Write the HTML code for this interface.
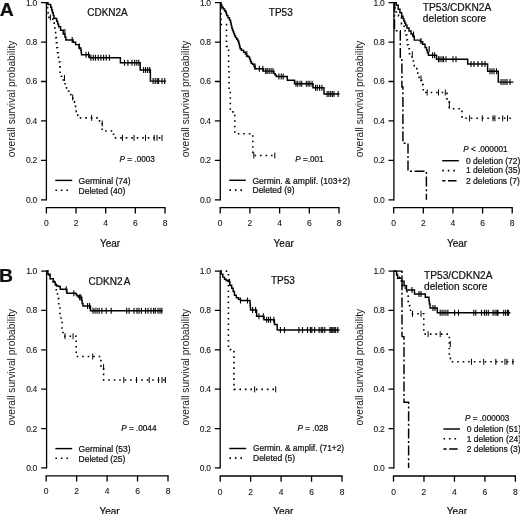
<!DOCTYPE html>
<html><head><meta charset="utf-8"><title>Survival curves</title>
<style>html,body{margin:0;padding:0;background:#fff;}svg{display:block;will-change:transform;}text{font-family:"Liberation Sans", sans-serif;fill:#111;stroke:#111;stroke-width:0.22px;}</style>
</head><body>
<svg width="520" height="514" viewBox="0 0 520 514">
<rect width="520" height="514" fill="#fff"/>
<text transform="translate(-0.2,15.8) scale(1.09,1)" font-size="17.8" font-weight="bold" fill="#000">A</text>
<text transform="translate(-0.9,281.6) scale(1.09,1)" font-size="17.8" font-weight="bold" fill="#000">B</text>
<path d="M46.4,2V200.4" stroke="#000" stroke-width="1.3" fill="none"/>
<path d="M41,199.8H46.4M41,160.36H46.4M41,120.92H46.4M41,81.48H46.4M41,42.04H46.4M41,2.6H46.4" stroke="#000" stroke-width="1.3" fill="none"/>
<text x="36.8" y="202.8" font-size="8.5" text-anchor="end" letter-spacing="-0.35" style="stroke-width:0.08px">0.0</text>
<text x="36.8" y="163.36" font-size="8.5" text-anchor="end" letter-spacing="-0.35" style="stroke-width:0.08px">0.2</text>
<text x="36.8" y="123.92" font-size="8.5" text-anchor="end" letter-spacing="-0.35" style="stroke-width:0.08px">0.4</text>
<text x="36.8" y="84.48" font-size="8.5" text-anchor="end" letter-spacing="-0.35" style="stroke-width:0.08px">0.6</text>
<text x="36.8" y="45.04" font-size="8.5" text-anchor="end" letter-spacing="-0.35" style="stroke-width:0.08px">0.8</text>
<text x="36.8" y="5.6" font-size="8.5" text-anchor="end" letter-spacing="-0.35" style="stroke-width:0.08px">1.0</text>
<path d="M45.8,207.7H165.6" stroke="#000" stroke-width="1.3" fill="none"/>
<path d="M46.4,207.7V213.5M76.05,207.7V213.5M105.7,207.7V213.5M135.35,207.7V213.5M165,207.7V213.5" stroke="#000" stroke-width="1.3" fill="none"/>
<text x="46.4" y="226.3" font-size="8.5" text-anchor="middle" style="stroke-width:0.08px">0</text>
<text x="76.05" y="226.3" font-size="8.5" text-anchor="middle" style="stroke-width:0.08px">2</text>
<text x="105.7" y="226.3" font-size="8.5" text-anchor="middle" style="stroke-width:0.08px">4</text>
<text x="135.35" y="226.3" font-size="8.5" text-anchor="middle" style="stroke-width:0.08px">6</text>
<text x="165" y="226.3" font-size="8.5" text-anchor="middle" style="stroke-width:0.08px">8</text>
<text x="110" y="246.6" font-size="10" text-anchor="middle">Year</text>
<text transform="translate(15,98.9) rotate(-90)" font-size="10.2" text-anchor="middle" style="stroke:none;fill:#1a1a1a">overall survival probability</text>
<text x="87.2" y="16.2" font-size="10">CDKN2A</text>
<path d="M46.4,2.7H48V4.4H50.3H50.72V7.18H51.58V9.95H52.42V12.72H53.28V15.5H53.7H54V18.3H54.3H55.25V18.5H56.2H56.68V21.27H57.65V24.03H58.62V26.8H59.1H60.55V30.2H62H63.2V34H64.4H64.9V36.95H65.9V39.9H66.4H72.4H73.15V42.2H73.9H75.6V44.6H77.3H79V48H80.7H80.87V50.27H81.2V52.53H81.53V54.8H81.7H89.5V57.7H120.4V62.7H140.2V69.9H150.4V81.1H166" fill="none" stroke="#000" stroke-width="1.45"/>
<path d="M64.9,29V35M72.2,36.9V42.9M79.5,43.5V49.5M86,51.8V57.8M88.6,51.8V57.8M90.9,54.7V60.7M93.3,54.7V60.7M95.5,54.7V60.7M98.2,54.7V60.7M100.9,54.7V60.7M103.6,54.7V60.7M106.2,54.7V60.7M109.4,54.7V60.7M124.5,59.7V65.7M127.9,59.7V65.7M132,59.7V65.7M134.7,59.7V65.7M136.8,59.7V65.7M138.8,59.7V65.7M143.6,66.9V72.9M145.6,66.9V72.9M147.7,66.9V72.9M149.7,66.9V72.9M153.1,78.1V84.1M155.2,78.1V84.1M157.2,78.1V84.1M158.6,78.1V84.1M162,78.1V84.1M164.7,78.1V84.1" stroke="#000" stroke-width="1.1" fill="none"/>
<path d="M46.4,2.7H47.3V7.6H47.6V12.5H48V17.4H52.8V22.3H53.3V22.9H53.8H54.15V27.75H54.85V32.6H55.2H55.58V37.65H56.33V42.7H56.7H57V47.7H57.6V52.7H57.9H58.4V57.35H59.4V62H59.9H59.98V67.15H60.12V72.3H60.2H61.35V76.3H62.5H63.35V80.05H65.05V83.8H65.9H66.55V87.9H67.2H68.45V91H69.7H70.85V94.7H72H72.85V98.45H74.55V102.2H75.4H75.55V107.4H75.7H76.25V111.8H76.8H77.8V117.9H78.8H99.5V122.6H102.2V131H113.6V137.9H163" fill="none" stroke="#000" stroke-width="1.6" stroke-dasharray="1.6 3.9"/>
<path d="M50.4,14.4V20.4M64.5,75V81M72.7,94.5V100.5M91.7,114.9V120.9M102.2,120.5V126.5M122.4,134.9V140.9M134,134.9V140.9M145.5,134.9V140.9M154.2,134.9V140.9M157,134.9V140.9M162,134.9V140.9" stroke="#000" stroke-width="1.0" fill="none"/>
<text x="119.6" y="162.4" font-size="8.2"><tspan font-style="italic">P</tspan> = .0003</text>
<path d="M55.3,180.4H72.2" fill="none" stroke="#000" stroke-width="1.45"/>
<path d="M55.4,190.2H69" fill="none" stroke="#000" stroke-width="1.6" stroke-dasharray="1.6 3.9"/>
<text x="78.6" y="183.9" font-size="8.5">Germinal (74)</text>
<text x="78.6" y="193.6" font-size="8.5">Deleted (40)</text>
<path d="M220.3,2V200.4" stroke="#000" stroke-width="1.3" fill="none"/>
<path d="M214.9,199.8H220.3M214.9,160.36H220.3M214.9,120.92H220.3M214.9,81.48H220.3M214.9,42.04H220.3M214.9,2.6H220.3" stroke="#000" stroke-width="1.3" fill="none"/>
<text x="210.7" y="202.8" font-size="8.5" text-anchor="end" letter-spacing="-0.35" style="stroke-width:0.08px">0.0</text>
<text x="210.7" y="163.36" font-size="8.5" text-anchor="end" letter-spacing="-0.35" style="stroke-width:0.08px">0.2</text>
<text x="210.7" y="123.92" font-size="8.5" text-anchor="end" letter-spacing="-0.35" style="stroke-width:0.08px">0.4</text>
<text x="210.7" y="84.48" font-size="8.5" text-anchor="end" letter-spacing="-0.35" style="stroke-width:0.08px">0.6</text>
<text x="210.7" y="45.04" font-size="8.5" text-anchor="end" letter-spacing="-0.35" style="stroke-width:0.08px">0.8</text>
<text x="210.7" y="5.6" font-size="8.5" text-anchor="end" letter-spacing="-0.35" style="stroke-width:0.08px">1.0</text>
<path d="M219.6,207.7H339.6" stroke="#000" stroke-width="1.3" fill="none"/>
<path d="M220.2,207.7V213.5M249.9,207.7V213.5M279.6,207.7V213.5M309.3,207.7V213.5M339,207.7V213.5" stroke="#000" stroke-width="1.3" fill="none"/>
<text x="220.2" y="226.3" font-size="8.5" text-anchor="middle" style="stroke-width:0.08px">0</text>
<text x="249.9" y="226.3" font-size="8.5" text-anchor="middle" style="stroke-width:0.08px">2</text>
<text x="279.6" y="226.3" font-size="8.5" text-anchor="middle" style="stroke-width:0.08px">4</text>
<text x="309.3" y="226.3" font-size="8.5" text-anchor="middle" style="stroke-width:0.08px">6</text>
<text x="339" y="226.3" font-size="8.5" text-anchor="middle" style="stroke-width:0.08px">8</text>
<text x="283.7" y="246.6" font-size="10" text-anchor="middle">Year</text>
<text transform="translate(188.9,98.9) rotate(-90)" font-size="10.2" text-anchor="middle" style="stroke:none;fill:#1a1a1a">overall survival probability</text>
<text x="268.8" y="16.2" font-size="10">TP53</text>
<path d="M220.3,2.7H220.83V5H221.88V7.3H222.4H223.12V9H224.58V10.7H225.3H225.62V12.33H226.25V13.97H226.88V15.6H227.2H227.95V17.75H229.45V19.9H230.2H230.44V21.97H230.91V24.05H231.39V26.12H231.86V28.2H232.1H232.46V30.15H233.19V32.1H233.91V34.05H234.64V36H235H235.57V37.63H236.7V39.27H237.83V40.9H238.4H238.65V42.88H239.15V44.85H239.65V46.82H240.15V48.8H240.4H241.4V50.2H242.4H243.6V52.2H244.8H245.4V54.1H246.6V56H247.2H248.2V57H249.2H249.6V59.1H250.4V61.2H251.2V63.3H251.6H252.6V64.3H253.6H254.07V66.5H255.03V68.7H255.5H263.5V71.1H273.5H274V73.6H274.5H275.1V75.05H276.3V76.5H276.9H287.3V80.2H294.5V83.7H313V87.7H324V94H339.5" fill="none" stroke="#000" stroke-width="1.45"/>
<path d="M246.8,51V57M255,63.5V69.5M259.4,65.7V71.7M262.8,65.7V71.7M265.7,68.1V74.1M267.2,68.1V74.1M269.1,68.1V74.1M271.1,68.1V74.1M273,68.1V74.1M278.9,73.5V79.5M281.3,73.5V79.5M283.2,73.5V79.5M296,80.7V86.7M297.7,80.7V86.7M300,80.7V86.7M301.7,80.7V86.7M306.3,80.7V86.7M308.1,80.7V86.7M309.8,80.7V86.7M312.1,80.7V86.7M315.6,84.7V90.7M317.3,84.7V90.7M319.6,84.7V90.7M321.9,84.7V90.7M327.1,91V97M328.8,91V97M330.6,91V97M332.3,91V97M334,91V97M338.1,91V97" stroke="#000" stroke-width="1.1" fill="none"/>
<path d="M220.3,2.7H220.9V24.5H226.5V46.4H228.6V68.2H229V90H230.3V111.9H234.8V133.7H252.8H252.81V139.15H252.84V144.6H252.86V150.05H252.89V155.5H252.9H274.8" fill="none" stroke="#000" stroke-width="1.6" stroke-dasharray="1.6 3.9"/>
<path d="M253.8,152.5V158.5M274.8,152.5V158.5" stroke="#000" stroke-width="1.0" fill="none"/>
<text x="295.2" y="162.3" font-size="8.2"><tspan font-style="italic">P</tspan> =.001</text>
<path d="M229.2,180.3H245.8" fill="none" stroke="#000" stroke-width="1.45"/>
<path d="M229.4,190.1H243" fill="none" stroke="#000" stroke-width="1.6" stroke-dasharray="1.6 3.9"/>
<text x="252.5" y="183.8" font-size="8.5">Germin. &amp; amplif. (103+2)</text>
<text x="252.5" y="193.1" font-size="8.5">Deleted (9)</text>
<path d="M393.9,2V200.4" stroke="#000" stroke-width="1.3" fill="none"/>
<path d="M388.5,199.8H393.9M388.5,160.36H393.9M388.5,120.92H393.9M388.5,81.48H393.9M388.5,42.04H393.9M388.5,2.6H393.9" stroke="#000" stroke-width="1.3" fill="none"/>
<text x="384.3" y="202.8" font-size="8.5" text-anchor="end" letter-spacing="-0.35" style="stroke-width:0.08px">0.0</text>
<text x="384.3" y="163.36" font-size="8.5" text-anchor="end" letter-spacing="-0.35" style="stroke-width:0.08px">0.2</text>
<text x="384.3" y="123.92" font-size="8.5" text-anchor="end" letter-spacing="-0.35" style="stroke-width:0.08px">0.4</text>
<text x="384.3" y="84.48" font-size="8.5" text-anchor="end" letter-spacing="-0.35" style="stroke-width:0.08px">0.6</text>
<text x="384.3" y="45.04" font-size="8.5" text-anchor="end" letter-spacing="-0.35" style="stroke-width:0.08px">0.8</text>
<text x="384.3" y="5.6" font-size="8.5" text-anchor="end" letter-spacing="-0.35" style="stroke-width:0.08px">1.0</text>
<path d="M393.1,207.7H512.8" stroke="#000" stroke-width="1.3" fill="none"/>
<path d="M393.7,207.7V213.5M423.32,207.7V213.5M452.95,207.7V213.5M482.58,207.7V213.5M512.2,207.7V213.5" stroke="#000" stroke-width="1.3" fill="none"/>
<text x="393.7" y="226.3" font-size="8.5" text-anchor="middle" style="stroke-width:0.08px">0</text>
<text x="423.32" y="226.3" font-size="8.5" text-anchor="middle" style="stroke-width:0.08px">2</text>
<text x="452.95" y="226.3" font-size="8.5" text-anchor="middle" style="stroke-width:0.08px">4</text>
<text x="482.58" y="226.3" font-size="8.5" text-anchor="middle" style="stroke-width:0.08px">6</text>
<text x="512.2" y="226.3" font-size="8.5" text-anchor="middle" style="stroke-width:0.08px">8</text>
<text x="457.05" y="246.6" font-size="10" text-anchor="middle">Year</text>
<text transform="translate(362.5,98.9) rotate(-90)" font-size="10.2" text-anchor="middle" style="stroke:none;fill:#1a1a1a">overall survival probability</text>
<text x="422.8" y="10.6" font-size="10.2">TP53/CDKN2A</text>
<text x="422.8" y="22" font-size="10.2">deletion score</text>
<path d="M393.9,2.7H395.2H396.25V5.3H397.3H398.2V9.3H399.1H399.95V12.8H400.8H401.7V16.3H402.6H403.03V18.65H403.88V21H404.3H404.75V23.05H405.65V25.1H406.1H406.95V28H407.8H409V30.9H410.2H411.05V33.9H411.9H412.8V36.2H413.7H414.25V40.1H414.8H419.5H420.35V41.8H421.2H422.65V44.3H424.1H425.05V47.4H426H426.48V50.03H427.45V52.67H428.42V55.3H428.9H436.5V59.2H467.7V64H487.6V71.2H498.3V82.1H513.4" fill="none" stroke="#000" stroke-width="1.45"/>
<path d="M413.6,31.5V37.5M421,37.9V43.9M429.2,46V52M432.6,52.3V58.3M434.6,52.3V58.3M438.5,56.2V62.2M440,56.2V62.2M442,56.2V62.2M443.5,56.2V62.2M446,56.2V62.2M453,56.2V62.2M456,56.2V62.2M471,61V67M474,61V67M478,61V67M482,61V67M485,61V67M490,68.2V74.2M492,68.2V74.2M494,68.2V74.2M496.5,68.2V74.2M501,79.1V85.1M503,79.1V85.1M505,79.1V85.1M507,79.1V85.1M510,79.1V85.1" stroke="#000" stroke-width="1.1" fill="none"/>
<path d="M393.9,2.7H395V8H396V12H397H398.5V16H400H401.5V24H403H404.15V30.8H405.3H406V35H406.7H406.93V39.85H407.38V44.7H407.6H408.2V48.8H408.8H409.35V53.8H409.9H411.95V61H414H414.3V65.7H414.6H415.75V68.6H416.9H417.8V73.3H418.7H419.15V77.4H419.6H421.2V80.3H422.8H422.95V84.9H423.1H423.2V92.5H423.3H447V100.5H449.3V108.8H462V118.3H511" fill="none" stroke="#000" stroke-width="1.6" stroke-dasharray="1.6 3.9"/>
<path d="M412.3,51.3V57.3M421,75.5V81.5M427.2,89.5V95.5M438.5,89.5V95.5M445.3,89.5V95.5M449.3,101V107M469.6,115.3V121.3M482.3,115.3V121.3M493,115.3V121.3M494.9,115.3V121.3M502.7,115.3V121.3M507.5,115.3V121.3" stroke="#000" stroke-width="1.0" fill="none"/>
<path d="M393.9,2.7H394.5V30.8H400.3V58.9H401.9V87H402.9V143.2H408V171.2H426.4V199.8" fill="none" stroke="#000" stroke-width="1.45" stroke-dasharray="10 2.6 2 2.6"/>
<text x="463.2" y="152" font-size="8.2"><tspan font-style="italic">P</tspan> &lt; .000001</text>
<path d="M442.2,160.7H458.8" fill="none" stroke="#000" stroke-width="1.45"/>
<path d="M442.3,170.6H456" fill="none" stroke="#000" stroke-width="1.6" stroke-dasharray="1.6 3.9"/>
<path d="M442.2,180.8H459" fill="none" stroke="#000" stroke-width="1.45" stroke-dasharray="3.3 2.5 8.5 3"/>
<text x="466" y="163.6" font-size="8.5">0 deletion (72)</text>
<text x="466" y="173.3" font-size="8.5">1 deletion (35)</text>
<text x="466" y="183.7" font-size="8.5">2 deletions (7)</text>
<path d="M46.6,270.5V468.5" stroke="#000" stroke-width="1.3" fill="none"/>
<path d="M41.2,467.9H46.6M41.2,428.54H46.6M41.2,389.18H46.6M41.2,349.82H46.6M41.2,310.46H46.6M41.2,271.1H46.6" stroke="#000" stroke-width="1.3" fill="none"/>
<text x="37" y="470.9" font-size="8.5" text-anchor="end" letter-spacing="-0.35" style="stroke-width:0.08px">0.0</text>
<text x="37" y="431.54" font-size="8.5" text-anchor="end" letter-spacing="-0.35" style="stroke-width:0.08px">0.2</text>
<text x="37" y="392.18" font-size="8.5" text-anchor="end" letter-spacing="-0.35" style="stroke-width:0.08px">0.4</text>
<text x="37" y="352.82" font-size="8.5" text-anchor="end" letter-spacing="-0.35" style="stroke-width:0.08px">0.6</text>
<text x="37" y="313.46" font-size="8.5" text-anchor="end" letter-spacing="-0.35" style="stroke-width:0.08px">0.8</text>
<text x="37" y="274.1" font-size="8.5" text-anchor="end" letter-spacing="-0.35" style="stroke-width:0.08px">1.0</text>
<path d="M45.6,475.8H168.6" stroke="#000" stroke-width="1.3" fill="none"/>
<path d="M46.2,475.8V481.6M76.65,475.8V481.6M107.1,475.8V481.6M137.55,475.8V481.6M168,475.8V481.6" stroke="#000" stroke-width="1.3" fill="none"/>
<text x="46.2" y="494.4" font-size="8.5" text-anchor="middle" style="stroke-width:0.08px">0</text>
<text x="76.65" y="494.4" font-size="8.5" text-anchor="middle" style="stroke-width:0.08px">2</text>
<text x="107.1" y="494.4" font-size="8.5" text-anchor="middle" style="stroke-width:0.08px">4</text>
<text x="137.55" y="494.4" font-size="8.5" text-anchor="middle" style="stroke-width:0.08px">6</text>
<text x="168" y="494.4" font-size="8.5" text-anchor="middle" style="stroke-width:0.08px">8</text>
<text x="109.5" y="514.7" font-size="10" text-anchor="middle">Year</text>
<text transform="translate(15.2,367.2) rotate(-90)" font-size="10.2" text-anchor="middle" style="stroke:none;fill:#1a1a1a">overall survival probability</text>
<text x="88.6" y="284.6" font-size="10">CDKN2<tspan dx="1.2">A</tspan></text>
<path d="M46.6,271.1H47.9V274.3H50H50.15V278.6H50.3H52.8H53.25V281.1H53.7H54.2V282H54.7H55.2V285H55.7H56.65V286H57.6H58.8V286.4H60H60.25V289.3H60.5H66.9V293.2H75.8H76.05V294.5H76.3H76.95V295.7H77.6H78.3V297.3H79H81.5H81.72V300.4H82.18V303.5H82.4H82.9V305.9H83.4H90.2H90.45V310.7H90.7H162.6" fill="none" stroke="#000" stroke-width="1.45"/>
<path d="M66.2,286.3V292.3M73.8,290.2V296.2M79.6,294.3V300.3M80.9,294.3V300.3M87.6,302.9V308.9M89.6,302.9V308.9M93,307.7V313.7M95,307.7V313.7M97.1,307.7V313.7M99.2,307.7V313.7M101.9,307.7V313.7M106.2,307.7V313.7M111.2,307.7V313.7M126.7,307.7V313.7M129.1,307.7V313.7M134,307.7V313.7M137,307.7V313.7M139,307.7V313.7M141.4,307.7V313.7M145.5,307.7V313.7M148,307.7V313.7M151,307.7V313.7M153.6,307.7V313.7M155.3,307.7V313.7M158,307.7V313.7M160,307.7V313.7M161.8,307.7V313.7" stroke="#000" stroke-width="1.1" fill="none"/>
<path d="M46.6,271.1H48V275H50.5V279H53V282.9H55.5H56.25V290.8H57H57.5V298.6H58H58.75V306.5H59.5H60V314.3H60.5H61V322.2H61.5H62V330H62.5H63V336.2H63.5H76.2V356.5H100.9V367.5H103.6V380H165.4" fill="none" stroke="#000" stroke-width="1.6" stroke-dasharray="1.6 3.9"/>
<path d="M65,333.2V339.2M73.1,333.2V339.2M92.7,353.5V359.5M103.6,364.1V370.1M123.8,377V383M136.5,377V383M149.2,377V383M158.5,377V383M162,377V383M165.4,377V383" stroke="#000" stroke-width="1.0" fill="none"/>
<text x="121.2" y="431" font-size="8.2"><tspan font-style="italic">P</tspan> = .0044</text>
<path d="M55.3,448.6H72.2" fill="none" stroke="#000" stroke-width="1.45"/>
<path d="M55.4,458.2H69" fill="none" stroke="#000" stroke-width="1.6" stroke-dasharray="1.6 3.9"/>
<text x="78.6" y="451.8" font-size="8.5">Germinal (53)</text>
<text x="78.6" y="461.6" font-size="8.5">Deleted (25)</text>
<path d="M220.2,270.5V468.5" stroke="#000" stroke-width="1.3" fill="none"/>
<path d="M214.8,467.9H220.2M214.8,428.54H220.2M214.8,389.18H220.2M214.8,349.82H220.2M214.8,310.46H220.2M214.8,271.1H220.2" stroke="#000" stroke-width="1.3" fill="none"/>
<text x="210.6" y="470.9" font-size="8.5" text-anchor="end" letter-spacing="-0.35" style="stroke-width:0.08px">0.0</text>
<text x="210.6" y="431.54" font-size="8.5" text-anchor="end" letter-spacing="-0.35" style="stroke-width:0.08px">0.2</text>
<text x="210.6" y="392.18" font-size="8.5" text-anchor="end" letter-spacing="-0.35" style="stroke-width:0.08px">0.4</text>
<text x="210.6" y="352.82" font-size="8.5" text-anchor="end" letter-spacing="-0.35" style="stroke-width:0.08px">0.6</text>
<text x="210.6" y="313.46" font-size="8.5" text-anchor="end" letter-spacing="-0.35" style="stroke-width:0.08px">0.8</text>
<text x="210.6" y="274.1" font-size="8.5" text-anchor="end" letter-spacing="-0.35" style="stroke-width:0.08px">1.0</text>
<path d="M219.6,476H342.6" stroke="#000" stroke-width="1.3" fill="none"/>
<path d="M220.2,476V481.8M250.65,476V481.8M281.1,476V481.8M311.55,476V481.8M342,476V481.8" stroke="#000" stroke-width="1.3" fill="none"/>
<text x="220.2" y="494.6" font-size="8.5" text-anchor="middle" style="stroke-width:0.08px">0</text>
<text x="250.65" y="494.6" font-size="8.5" text-anchor="middle" style="stroke-width:0.08px">2</text>
<text x="281.1" y="494.6" font-size="8.5" text-anchor="middle" style="stroke-width:0.08px">4</text>
<text x="311.55" y="494.6" font-size="8.5" text-anchor="middle" style="stroke-width:0.08px">6</text>
<text x="342" y="494.6" font-size="8.5" text-anchor="middle" style="stroke-width:0.08px">8</text>
<text x="283.3" y="514.9" font-size="10" text-anchor="middle">Year</text>
<text transform="translate(188.8,367.2) rotate(-90)" font-size="10.2" text-anchor="middle" style="stroke:none;fill:#1a1a1a">overall survival probability</text>
<text x="271" y="283.9" font-size="10">TP53</text>
<path d="M220.2,271.1H220.4H221.15V274.1H221.9H222.85V277.1H223.8H224.5V279.3H225.2H226.15V280.4H227.1H228V281.5H228.9H229.85V285.2H230.8H231.7V288.2H232.6H233.15V291.5H233.7H234.45V295.2H235.2H236.3V297.8H237.4H238.55V299.3H239.7H240.4V300.4H241.1H249.9H249.99V302.77H250.16V305.15H250.34V307.52H250.51V309.9H250.6H256.6V316.3H264V319.7H274.3H274.35V322.1H274.45V324.5H274.5H277.2V329.9H339.5" fill="none" stroke="#000" stroke-width="1.45"/>
<path d="M229.5,278.8V284.8M240.5,297.4V303.4M247.5,297.4V303.4M252.6,306.9V312.9M255.6,306.9V312.9M258.9,313.3V319.3M263.3,313.3V319.3M266.7,316.7V322.7M268.6,316.7V322.7M270.5,316.7V322.7M273.8,316.7V322.7M280.4,326.9V332.9M284.5,326.9V332.9M298.9,326.9V332.9M302.5,326.9V332.9M307.5,326.9V332.9M310.4,326.9V332.9M311.8,326.9V332.9M314.7,326.9V332.9M319.1,326.9V332.9M321.2,326.9V332.9M322.7,326.9V332.9M324.8,326.9V332.9M329.9,326.9V332.9M331.3,326.9V332.9M332.8,326.9V332.9M334.2,326.9V332.9M335.7,326.9V332.9M337.8,326.9V332.9" stroke="#000" stroke-width="1.1" fill="none"/>
<path d="M220.2,271.1H228.4V349.6H234V389.4H275.7" fill="none" stroke="#000" stroke-width="1.6" stroke-dasharray="1.6 3.9"/>
<path d="M254.6,386.4V392.4M275.7,386.4V392.4" stroke="#000" stroke-width="1.0" fill="none"/>
<text x="297.4" y="431" font-size="8.2"><tspan font-style="italic">P</tspan> = .028</text>
<path d="M229.2,448.5H246.2" fill="none" stroke="#000" stroke-width="1.45"/>
<path d="M229.4,458.1H243" fill="none" stroke="#000" stroke-width="1.6" stroke-dasharray="1.6 3.9"/>
<text x="253" y="451.4" font-size="8.35">Germin. &amp; amplif. (71+2)</text>
<text x="253" y="461.2" font-size="8.5">Deleted (5)</text>
<path d="M393.9,270.5V468.5" stroke="#000" stroke-width="1.3" fill="none"/>
<path d="M388.5,467.9H393.9M388.5,428.54H393.9M388.5,389.18H393.9M388.5,349.82H393.9M388.5,310.46H393.9M388.5,271.1H393.9" stroke="#000" stroke-width="1.3" fill="none"/>
<text x="384.3" y="470.9" font-size="8.5" text-anchor="end" letter-spacing="-0.35" style="stroke-width:0.08px">0.0</text>
<text x="384.3" y="431.54" font-size="8.5" text-anchor="end" letter-spacing="-0.35" style="stroke-width:0.08px">0.2</text>
<text x="384.3" y="392.18" font-size="8.5" text-anchor="end" letter-spacing="-0.35" style="stroke-width:0.08px">0.4</text>
<text x="384.3" y="352.82" font-size="8.5" text-anchor="end" letter-spacing="-0.35" style="stroke-width:0.08px">0.6</text>
<text x="384.3" y="313.46" font-size="8.5" text-anchor="end" letter-spacing="-0.35" style="stroke-width:0.08px">0.8</text>
<text x="384.3" y="274.1" font-size="8.5" text-anchor="end" letter-spacing="-0.35" style="stroke-width:0.08px">1.0</text>
<path d="M392.9,476H516" stroke="#000" stroke-width="1.3" fill="none"/>
<path d="M393.5,476V481.8M423.98,476V481.8M454.45,476V481.8M484.92,476V481.8M515.4,476V481.8" stroke="#000" stroke-width="1.3" fill="none"/>
<text x="393.5" y="494.6" font-size="8.5" text-anchor="middle" style="stroke-width:0.08px">0</text>
<text x="423.98" y="494.6" font-size="8.5" text-anchor="middle" style="stroke-width:0.08px">2</text>
<text x="454.45" y="494.6" font-size="8.5" text-anchor="middle" style="stroke-width:0.08px">4</text>
<text x="484.92" y="494.6" font-size="8.5" text-anchor="middle" style="stroke-width:0.08px">6</text>
<text x="515.4" y="494.6" font-size="8.5" text-anchor="middle" style="stroke-width:0.08px">8</text>
<text x="456.95" y="514.9" font-size="10" text-anchor="middle">Year</text>
<text transform="translate(362.5,367.2) rotate(-90)" font-size="10.2" text-anchor="middle" style="stroke:none;fill:#1a1a1a">overall survival probability</text>
<text x="424" y="278.8" font-size="10.2">TP53/CDKN2A</text>
<text x="424" y="290.2" font-size="10.2">deletion score</text>
<path d="M393.9,271.1H396.6V275H397.6V278.3H398.6H401.3H402V281.1H402.7H404.05V285.8H405.4H406.45V289.9H407.5H414.5V294H424.8H425.3V297.3H425.8H428.7H428.93V300.65H429.38V304H429.6H430.1V307.9H430.6H437.3V312.7H510.4" fill="none" stroke="#000" stroke-width="1.45"/>
<path d="M412,286.9V292.9M419,291V297M421,291V297M433,304.9V310.9M435,304.9V310.9M440.2,309.7V315.7M442.1,309.7V315.7M444,309.7V315.7M446,309.7V315.7M447.9,309.7V315.7M454.6,309.7V315.7M458.5,309.7V315.7M473.8,309.7V315.7M475.8,309.7V315.7M481.5,309.7V315.7M484.4,309.7V315.7M486.3,309.7V315.7M488.3,309.7V315.7M493.1,309.7V315.7M495,309.7V315.7M496.9,309.7V315.7M497.9,309.7V315.7M503.7,309.7V315.7M505.6,309.7V315.7M507.5,309.7V315.7M508.5,309.7V315.7" stroke="#000" stroke-width="1.1" fill="none"/>
<path d="M393.9,271.1H396H397V276H398H399.5V281H401H402.5V286H404H405.25V291H406.5H407V296H407.5H408.15V301.5H408.8H409.5V305.6H410.2H410.55V313.8H410.9H423.8V334.1H449.3V358.4H451.35V361.8H453.4H514" fill="none" stroke="#000" stroke-width="1.6" stroke-dasharray="1.6 3.9"/>
<path d="M412.5,310.8V316.8M421,310.8V316.8M428.1,331.1V337.1M440.2,331.1V337.1M450.3,341V347M471.5,358.8V364.8M483.7,358.8V364.8M495.8,358.8V364.8M504.9,358.8V364.8M506.9,358.8V364.8M512.9,358.8V364.8" stroke="#000" stroke-width="1.0" fill="none"/>
<path d="M393.9,271.1H402V336.6H404V402.2H408.6V467.9" fill="none" stroke="#000" stroke-width="1.45" stroke-dasharray="10 2.6 2 2.6"/>
<text x="465" y="420.6" font-size="8.2"><tspan font-style="italic">P</tspan> = .000003</text>
<path d="M443.4,429H460" fill="none" stroke="#000" stroke-width="1.45"/>
<path d="M443.5,438.8H457" fill="none" stroke="#000" stroke-width="1.6" stroke-dasharray="1.6 3.9"/>
<path d="M443.4,449H460" fill="none" stroke="#000" stroke-width="1.45" stroke-dasharray="3.3 2.5 8.5 3"/>
<text x="466.7" y="432" font-size="8.5">0 deletion (51)</text>
<text x="466.7" y="442" font-size="8.5">1 deletion (24)</text>
<text x="466.7" y="451.7" font-size="8.5">2 deletions (3)</text>
</svg>
</body></html>
